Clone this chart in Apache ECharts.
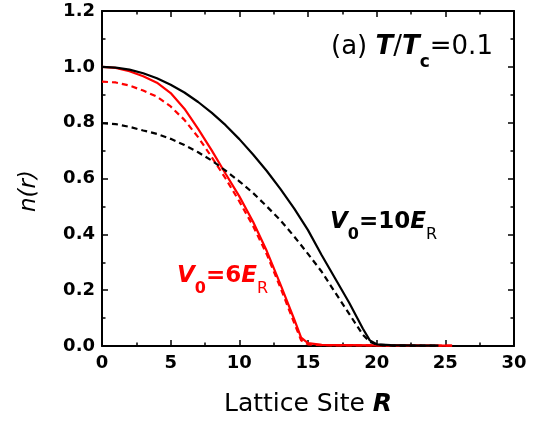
<!DOCTYPE html>
<html>
<head>
<meta charset="utf-8">
<script src="https://cdn.jsdelivr.net/npm/echarts@6/dist/echarts.min.js"></script>
<style>
    html, body { margin: 0; padding: 0; background: #fff; }
    #myChart { width: 542px; height: 423px; }
</style>
</head>
<body>
<div id="myChart"></div>
<script>
//数据
var xTicks = [0, 5, 10, 15, 20, 25, 30];
var yTicks = ['0.0', '0.2', '0.4', '0.6', '0.8', '1.0', '1.2'];

//V0=6ER 实线
var rRedSolid = [0, 1, 2, 3, 4, 5, 6, 7, 8, 9, 10, 11, 12, 13, 14, 14.5, 15, 16, 17, 18, 20, 22, 24, 25.5];
var nRedSolid = [1.000, 0.996, 0.984, 0.966, 0.943, 0.906, 0.850, 0.778, 0.700, 0.617, 0.536, 0.445, 0.340, 0.220, 0.095, 0.030, 0.010, 0.004, 0.003, 0.003, 0.002, 0.002, 0.001, 0.001];
//V0=6ER 虚线
var rRedDash = [0, 1, 2, 3, 4, 5, 6, 7, 8, 9, 10, 11, 12, 13, 14, 14.5, 15, 16, 17, 18, 20, 22, 24, 25.5];
var nRedDash = [0.947, 0.944, 0.933, 0.915, 0.893, 0.858, 0.810, 0.748, 0.676, 0.600, 0.518, 0.430, 0.328, 0.208, 0.082, 0.020, 0.006, 0.003, 0.002, 0.002, 0.002, 0.001, 0.001, 0.001];
//V0=10ER 实线
var rBlackSolid = [0, 1, 2, 3, 4, 5, 6, 7, 8, 9, 10, 11, 12, 13, 14, 15, 16, 17, 18, 19, 19.5, 20, 21, 22, 23, 24.5];
var nBlackSolid = [1.000, 0.997, 0.990, 0.977, 0.959, 0.936, 0.908, 0.874, 0.835, 0.791, 0.741, 0.686, 0.627, 0.562, 0.492, 0.415, 0.325, 0.240, 0.155, 0.062, 0.020, 0.006, 0.003, 0.002, 0.001, 0.001];
//V0=10ER 虚线
var rBlackDash = [0, 1, 2, 3, 4, 5, 6, 7, 8, 9, 10, 11, 12, 13, 14, 15, 16, 17, 18, 19, 19.5, 20, 21, 22, 24.5];
var nBlackDash = [0.798, 0.795, 0.785, 0.772, 0.760, 0.742, 0.720, 0.694, 0.664, 0.628, 0.590, 0.548, 0.500, 0.450, 0.392, 0.330, 0.266, 0.190, 0.115, 0.040, 0.015, 0.005, 0.002, 0.001, 0.001];

var FONT = 'DejaVu Sans';

//组合成点
function toPoints(xs, ys) {
    var list = [];
    for (var i = 0; i < xs.length; i++) {
        list.push([xs[i], ys[i]]);
    }
    return list;
}

//获取Series
function getSeries() {
    var items = [
        {data: toPoints(rRedSolid, nRedSolid), color: '#ff0000', type: 'solid'},
        {data: toPoints(rRedDash, nRedDash), color: '#ff0000', type: [6, 4]},
        {data: toPoints(rBlackSolid, nBlackSolid), color: '#000000', type: 'solid'},
        {data: toPoints(rBlackDash, nBlackDash), color: '#000000', type: [6, 4]}
    ];
    return items.map(function (it) {
        return {
            type: 'line',
            data: it.data,
            showSymbol: false,
            smooth: false,
            xAxisIndex: 0,
            yAxisIndex: 0,
            lineStyle: {color: it.color, width: 2.2, type: it.type}
        };
    });
}

//坐标轴公共样式
function axisBase(show) {
    return {
        axisLine: {show: true, onZero: false, lineStyle: {color: '#000', width: 2}},
        axisTick: {show: true, inside: true, length: 6, lineStyle: {color: '#000', width: 1.5}},
        minorTick: {show: true, splitNumber: 2, length: 3.5, lineStyle: {color: '#000', width: 1.5}},
        splitLine: {show: false},
        axisLabel: {
            show: show,
            fontFamily: FONT,
            fontSize: 18,
            fontWeight: 'bold',
            color: '#000'
        }
    };
}

//下标样式
function subStyle(color, bold, pad) {
    return {fontFamily: FONT, fontSize: 16, fontWeight: bold ? 'bold' : 'normal', fill: color, padding: [pad, 0, 0, 0]};
}

//公式标注 V0=xER
function formulaText(left, top, num, color) {
    return {
        type: 'text', left: left, top: top, z: 10,
        style: {
            text: '{it|V}{sub|0}{b|=' + num + '}{it|E}{subr|R}',
            fontFamily: FONT, fontSize: 23, fill: color,
            rich: {
                it: {fontFamily: FONT, fontSize: 23, fontWeight: 'bold', fontStyle: 'italic', fill: color},
                b: {fontFamily: FONT, fontSize: 23, fontWeight: 'bold', fill: color},
                sub: subStyle(color, true, 24),
                subr: subStyle(color, false, 24)
            }
        }
    };
}

function initECharts() {
    var myChart = echarts.init(document.getElementById('myChart'), null, {renderer: 'canvas'});

    var xBottom = Object.assign(axisBase(true), {
        type: 'value', position: 'bottom', min: xTicks[0], max: xTicks[xTicks.length - 1], interval: 5,
        name: 'Lattice Site {b|R}',
        nameLocation: 'middle',
        nameGap: 46,
        nameTextStyle: {
            fontFamily: FONT, fontSize: 25, color: '#000',
            rich: {b: {fontFamily: FONT, fontSize: 25, fontWeight: 'bold', fontStyle: 'italic', color: '#000'}}
        }
    });
    xBottom.axisLabel.margin = 8;
    var xTop = Object.assign(axisBase(false), {
        type: 'value', position: 'top', min: 0, max: 30, interval: 5
    });
    var yLeft = Object.assign(axisBase(true), {
        type: 'value', position: 'left', min: 0, max: 1.2, interval: 0.2,
        name: 'n(r)',
        nameLocation: 'middle',
        nameGap: 61,
        nameTextStyle: {
            fontFamily: FONT, fontSize: 23, fontStyle: 'italic', color: '#000',
            padding: [0, 25, 0, 0]
        }
    });
    yLeft.axisLabel.margin = 7;
    yLeft.axisLabel.formatter = function (value) {
        var idx = Math.round(value / 0.2);
        return yTicks[idx];
    };
    var yRight = Object.assign(axisBase(false), {
        type: 'value', position: 'right', min: 0, max: 1.2, interval: 0.2
    });

    var option = {
        animation: false,
        backgroundColor: '#fff',
        grid: {left: 102, right: 28, top: 11, bottom: 77},
        xAxis: [xBottom, xTop],
        yAxis: [yLeft, yRight],
        graphic: [
            {
                type: 'text', left: 331, top: 34, z: 10,
                style: {
                    text: '(a) {it|T}/{it|T}{sub|c}=0.1',
                    fontFamily: FONT, fontSize: 26, fill: '#000',
                    rich: {
                        it: {fontFamily: FONT, fontSize: 26, fontWeight: 'bold', fontStyle: 'italic', fill: '#000'},
                        sub: {fontFamily: FONT, fontSize: 17, fontWeight: 'bold', fill: '#000', padding: [31, 0, 0, 0]}
                    }
                }
            },
            formulaText(330, 211, '10', '#000'),
            formulaText(177, 265, '6', '#ff0000')
        ],
        series: getSeries()
    };
    myChart.setOption(option);
}

initECharts();
</script>
</body>
</html>
